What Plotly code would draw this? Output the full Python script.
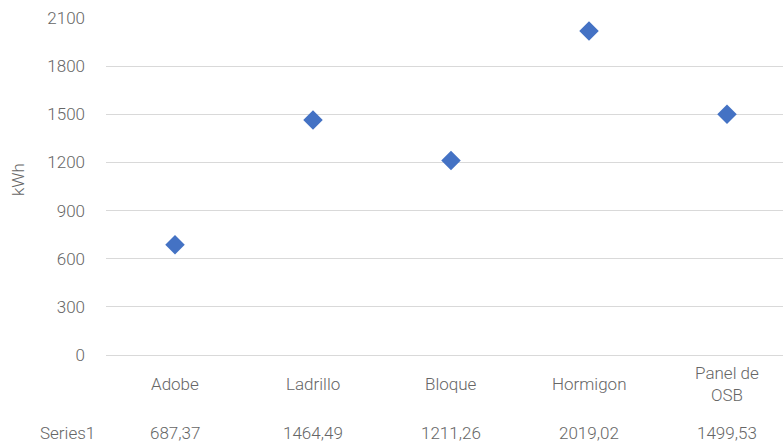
import plotly.graph_objects as go

# Energy per construction material
categories = ["Adobe", "Ladrillo", "Bloque", "Hormigon", "Panel de<br>OSB"]
series_name = "Series1"
values = [687.37, 1464.49, 1211.26, 2019.02, 1499.53]
y_ticks = [0, 300, 600, 900, 1200, 1500, 1800, 2100]

W, H = 783, 445
ML, MR, MT, MB = 106, 0, 18, 90
plot_w = W - ML - MR
plot_h = H - MT - MB

FONT = "Roboto"
TXT = "#666666"
FS = 17
WT = 300

x_pos = list(range(len(categories)))

fig = go.Figure()
fig.add_trace(go.Scatter(
    x=x_pos, y=values, mode="markers", name=series_name,
    marker=dict(symbol="diamond", size=15, color="#4472C4",
                line=dict(width=0)),
    showlegend=False, hoverinfo="y",
))

# px per category unit is 138; right edge clips the last slot
unit = 138.0
x_range = [-0.5, -0.5 + plot_w / unit]

fig.update_layout(
    width=W, height=H,
    margin=dict(l=ML, r=MR, t=MT, b=MB, pad=0),
    paper_bgcolor="white", plot_bgcolor="white",
    font=dict(family=FONT, size=FS, color=TXT, weight=WT),
    xaxis=dict(range=x_range, showgrid=False, zeroline=False,
               showline=False, showticklabels=False, fixedrange=True),
    yaxis=dict(range=[0, 2100], tickvals=y_ticks,
               ticktext=[str(v) for v in y_ticks],
               showgrid=True, gridcolor="#d9d9d9", gridwidth=1.3,
               zeroline=True, zerolinecolor="#d9d9d9", zerolinewidth=1.3,
               showline=False, ticks="",
               ticklabelstandoff=20,
               tickfont=dict(family=FONT, size=FS, color=TXT, weight=WT)),
)

def px_to_paper_x(px):
    return (px - ML) / plot_w

def px_to_paper_y(py):
    return (H - MB - py) / plot_h

lbl_font = dict(family=FONT, size=FS, color=TXT, weight=WT)

# Category labels under the plot
for i, c in enumerate(categories):
    fig.add_annotation(x=i, y=px_to_paper_y(384), xref="x", yref="paper",
                       text=c, showarrow=False, xanchor="center",
                       yanchor="middle", align="center", font=lbl_font)

# Data table row
fig.add_annotation(x=px_to_paper_x(67), y=px_to_paper_y(433), xref="paper",
                   yref="paper", text=series_name, showarrow=False,
                   xanchor="center", yanchor="middle", font=lbl_font)
for i, v in enumerate(values):
    fig.add_annotation(x=i, y=px_to_paper_y(433), xref="x", yref="paper",
                       text=f"{v:.2f}".replace(".", ","), showarrow=False,
                       xanchor="center", yanchor="middle", font=lbl_font)

# Y axis title
fig.add_annotation(x=px_to_paper_x(18), y=px_to_paper_y(180), xref="paper",
                   yref="paper", text="kWh", textangle=-90, showarrow=False,
                   xanchor="center", yanchor="middle", font=lbl_font)

fig.write_html("out.html")
